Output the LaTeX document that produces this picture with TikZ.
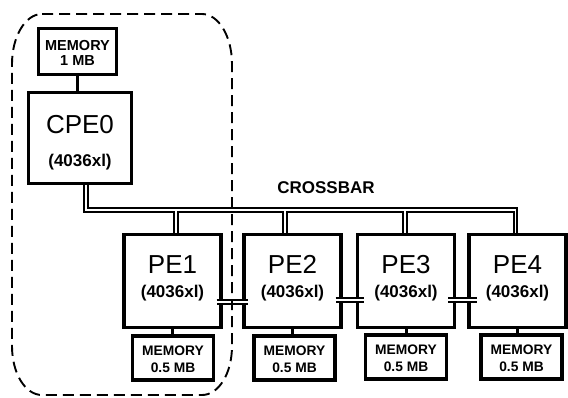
\documentclass[tikz,border=0pt]{standalone}
\usepackage{fontspec}
\setmainfont{Liberation Sans}
\usetikzlibrary{calc}
\begin{document}
\begin{tikzpicture}[x=1pt,y=-1pt,
  pebox/.style={draw, line width=3.2pt, inner sep=0pt, minimum width=97pt, minimum height=93pt},
  cpebox/.style={draw, line width=3.2pt, inner sep=0pt, minimum width=103pt, minimum height=91pt},
  membox/.style={draw, line width=3.2pt, inner sep=0pt, minimum width=81pt, minimum height=44pt},
  mem0box/.style={draw, line width=3.2pt, inner sep=0pt, minimum width=78pt, minimum height=46pt},
  title/.style={anchor=base, inner sep=0pt, font=\fontsize{26}{26}\selectfont},
  sub/.style={anchor=base, inner sep=0pt, font=\fontsize{17}{17}\selectfont\bfseries},
  memtxt/.style={anchor=base, inner sep=0pt, font=\fontsize{13.8}{14}\selectfont\bfseries},
  mem0txt/.style={anchor=base, inner sep=0pt, font=\fontsize{14.5}{15}\selectfont\bfseries},
  link/.style={line width=3pt},
  dbl/.style={double, double distance=1.7pt, line width=1.9pt, line cap=butt},
  boundary/.style={line width=1.9pt, dash pattern=on 11pt off 6pt}]
\useasboundingbox (0,0) rectangle (568,397);

% boxes
\node[mem0box] (mem0) at (77.5,51.5) {};
\node[cpebox] (cpe0) at (80,138) {};
\node[pebox] (pe1) at (172.5,281) {};
\node[pebox] (pe2) at (292.5,281) {};
\node[pebox] (pe3) at (406,281) {};
\node[pebox] (pe4) at (517.5,281) {};
\node[membox] (m1) at (173,358) {};
\node[membox] (m2) at (294.5,358) {};
\node[membox] (m3) at (406,357) {};
\node[membox] (m4) at (521.5,357) {};

% texts
\node[mem0txt] (mem0a) at ($(mem0)+(0,-1.5)$) {MEMORY};
\node[mem0txt] (mem0b) at ($(mem0)+(0,13.5)$) {1 MB};
\node[title] (cpe0a) at ($(cpe0)+(0,-5)$) {CPE0};
\node[sub] (cpe0b) at ($(cpe0)+(0,28)$) {(4036xl)};
\foreach \i in {1,...,4}{
  \node[title] (pe\i a) at ($(pe\i)+(0,-8)$) {PE\i};
  \node[sub] (pe\i b) at ($(pe\i)+(0,16)$) {(4036xl)};
  \node[memtxt] (m\i a) at ($(m\i)+(0,-3)$) {MEMORY};
  \node[memtxt] (m\i b) at ($(m\i)+(0,14)$) {0.5 MB};
  \draw[link] (pe\i.south) -- (pe\i.south |- m\i.north);
}
\node[anchor=base, inner sep=0pt, font=\fontsize{17}{17}\selectfont\bfseries] (xbarlabel) at (326,193.5) {CROSSBAR};

% memory to CPE0
\draw[link] (mem0.south) -- (mem0.south |- cpe0.north);

% crossbar
\coordinate (cb) at (85.7,210);
\coordinate (cbr) at (515.5,210);
\coordinate (b1) at (176,210);
\coordinate (b2) at (285,210);
\coordinate (b3) at (405,210);
\foreach \w/\c in {5.6pt/black,1.8pt/white}{
  \draw[line width=\w, draw=\c, line cap=butt, line join=miter]
    (cb |- cpe0.south) -- (cb) -- (cbr) -- (cbr |- pe4.north)
    (b1) -- (b1 |- pe1.north)
    (b2) -- (b2 |- pe2.north)
    (b3) -- (b3 |- pe3.north);
}

% PE links
\draw[dbl] ($(pe1.east)+(-6,21)$) -- ($(pe2.west)+(6,21)$);
\draw[dbl] ($(pe2.east)+(-7,19)$) -- ($(pe3.west)+(8,19)$);
\draw[dbl] ($(pe3.east)+(-8,19)$) -- ($(pe4.west)+(10,19)$);

% dashed boundary
\draw[boundary] (42,14) -- (202,14) .. controls (218.6,14) and (232,36.4) .. (232,64)
  -- (232,346) .. controls (232,373.6) and (218.6,395) .. (202,395)
  -- (42,395) .. controls (25.4,395) and (12,373.6) .. (12,346)
  -- (12,64) .. controls (12,36.4) and (25.4,14) .. (42,14) -- cycle;
\end{tikzpicture}
\end{document}
